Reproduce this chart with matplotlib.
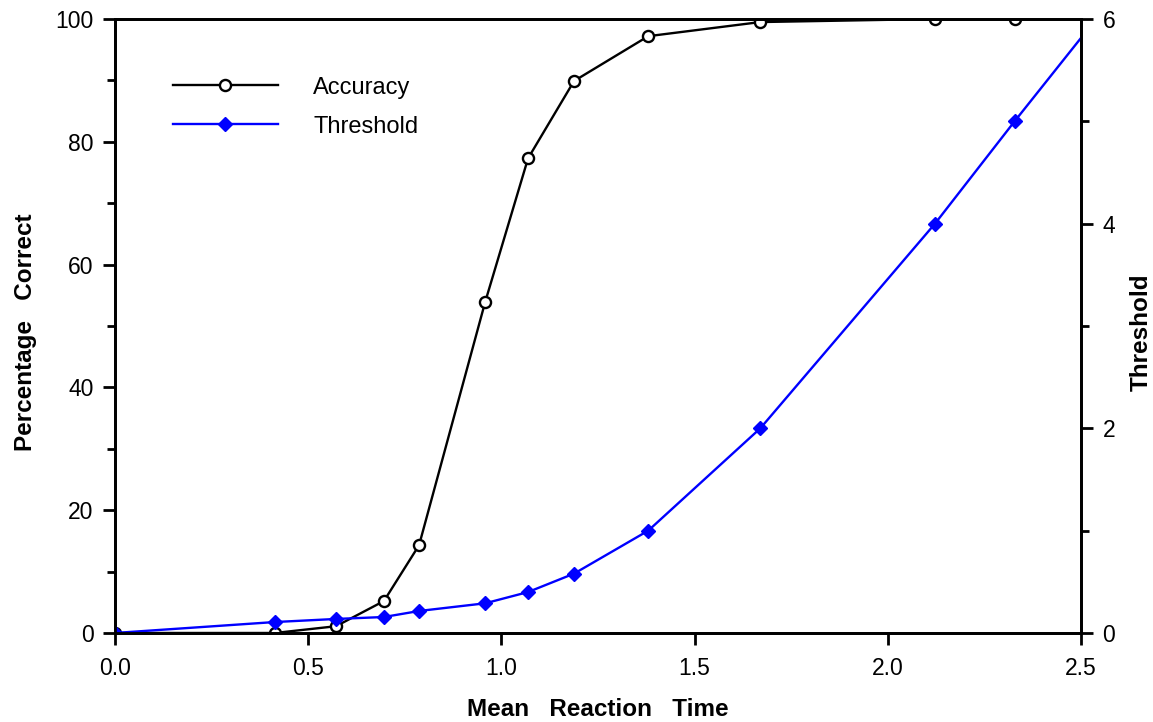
import matplotlib as mpl
import matplotlib.pyplot as plt
from matplotlib.ticker import MultipleLocator

mpl.rcParams['font.family'] = ['Liberation Sans', 'DejaVu Sans']

# mean reaction time (last point lies past the axis edge and is clipped)
rt = [0.0, 0.414, 0.572, 0.696, 0.787, 0.958, 1.069, 1.188, 1.380, 1.670, 2.122, 2.328, 2.56]
accuracy = [0.0, 0.0, 1.1, 5.2, 14.3, 53.9, 77.3, 89.9, 97.2, 99.5, 100.0, 100.0, 100.0]
threshold = [0.0, 0.107, 0.137, 0.156, 0.215, 0.29, 0.40, 0.58, 1.0, 2.0, 4.0, 5.0, 6.1]

fig = plt.figure(figsize=(11.53, 7.22), dpi=100)
ax = fig.add_axes([0.0997, 0.1233, 0.8379, 0.8504])
ax2 = ax.twinx()

l1, = ax.plot(rt, accuracy, color='black', lw=1.7, marker='o', ms=8,
              mfc='white', mec='black', mew=1.7, label='Accuracy')
l2, = ax2.plot(rt, threshold, color='blue', lw=1.7, marker='D', ms=7,
               mfc='blue', mec='blue', label='Threshold')

ax.set_xlim(0, 2.5)
ax.set_ylim(0, 100)
ax2.set_ylim(0, 6)
ax.xaxis.set_major_locator(MultipleLocator(0.5))
ax.yaxis.set_major_locator(MultipleLocator(20))
ax.yaxis.set_minor_locator(MultipleLocator(10))
ax2.yaxis.set_major_locator(MultipleLocator(2))
ax2.yaxis.set_minor_locator(MultipleLocator(1))
ax.xaxis.set_major_formatter(mpl.ticker.FormatStrFormatter('%.1f'))

for a in (ax, ax2):
    for s in a.spines.values():
        s.set_linewidth(2.0)
    a.tick_params(which='both', direction='out', width=2.0, labelsize=16.5, pad=7)
    a.tick_params(which='major', length=8.5)
    a.tick_params(which='minor', length=5.5)
ax.tick_params(axis='x', top=False, pad=9)

ax.set_xlabel('Mean   Reaction   Time', fontsize=17.5, fontweight='bold')
ax.set_ylabel('Percentage   Correct', fontsize=17.5, fontweight='bold')
ax2.set_ylabel('Threshold', fontsize=17.5, fontweight='bold')
ax.xaxis.label.set_va('center')
ax.yaxis.label.set_va('center')
ax2.yaxis.label.set_va('center')
ax.xaxis.set_label_coords(0.5, -0.125)
ax.yaxis.set_label_coords(-0.093, 0.49)
ax2.yaxis.set_label_coords(1.062, 0.49)

ax.legend(handles=[l1, l2], loc='upper left', bbox_to_anchor=(0.060, 0.906),
          frameon=False, fontsize=17, handlelength=4.45, handletextpad=1.5,
          labelspacing=0.72, borderpad=0, borderaxespad=0)

fig.savefig('out.png', dpi=100)
